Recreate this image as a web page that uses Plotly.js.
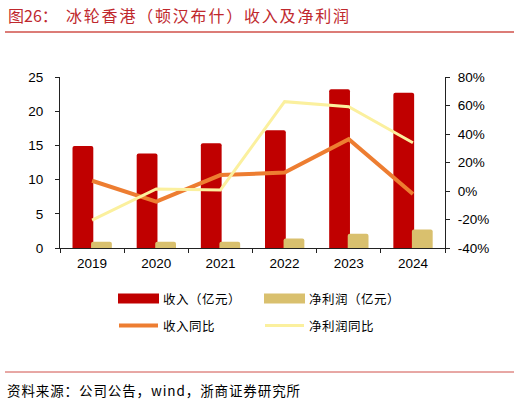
<!DOCTYPE html>
<html>
<head>
<meta charset="utf-8">
<script src="https://cdn.plot.ly/plotly-3.0.1.min.js"></script>
<style>
html,body{margin:0;padding:0;background:#fff;}
#chart{width:520px;height:403px;}
</style>
</head>
<body>
<div id="chart"></div>
<script>
// ---- data ----
const years = ['2019', '2020', '2021', '2022', '2023', '2024'];
const revenue = [14.9, 13.8, 15.3, 17.2, 23.2, 22.7];        // 收入（亿元）
const netProfit = [0.9, 0.9, 0.9, 1.4, 2.1, 2.7];            // 净利润（亿元）
const revenueYoY = [7.2, -7.5, 11.2, 12.9, 36.3, -2.1];      // 收入同比 (%)
const profitYoY = [-20.4, 1.4, 0.7, 62.7, 59.2, 33.9];       // 净利润同比 (%)
const leftTicks = [0, 5, 10, 15, 20, 25];
const rightTicks = [-40, -20, 0, 20, 40, 60, 80];

// ---- layout helpers ----
const W = 520, H = 403;
const M = {l: 60, r: 75, t: 77, b: 155};
const pw = W - M.l - M.r, ph = H - M.t - M.b;
const px = x => (x - M.l) / pw;
const py = y => (H - M.b - y) / ph;

const C_REV = '#C00000', C_NP = '#D9C06E', C_RY = '#ED7D31', C_PY = '#FBF09E';
const TXT = '"Noto Sans CJK SC", "Liberation Sans", sans-serif';

const traces = [
  {type: 'bar', x: years, y: revenue, name: '收入（亿元）', marker: {color: C_REV, cornerradius: 2},
   width: 0.324, offset: -0.305, hoverinfo: 'none'},
  {type: 'bar', x: years, y: netProfit, name: '净利润（亿元）', marker: {color: C_NP, cornerradius: 2},
   width: 0.324, offset: -0.016, hoverinfo: 'none'},
  {type: 'scatter', mode: 'lines', x: years, y: revenueYoY, yaxis: 'y2', name: '收入同比',
   line: {color: C_RY, width: 4}, hoverinfo: 'none'},
  {type: 'scatter', mode: 'lines', x: years, y: profitYoY, yaxis: 'y2', name: '净利润同比',
   line: {color: C_PY, width: 3}, hoverinfo: 'none'}
];

const shapes = [
  {type: 'line', xref: 'paper', yref: 'paper', x0: px(5), x1: px(514), y0: py(32), y1: py(32),
   line: {color: '#D0504A', width: 1.5}},
  {type: 'line', xref: 'paper', yref: 'paper', x0: px(5), x1: px(514), y0: py(372), y1: py(372),
   line: {color: '#D0504A', width: 1}},
  // legend symbols
  {type: 'rect', xref: 'paper', yref: 'paper', x0: px(118), x1: px(159), y0: py(293.5), y1: py(303.5),
   fillcolor: C_REV, line: {width: 0}},
  {type: 'rect', xref: 'paper', yref: 'paper', x0: px(264), x1: px(305), y0: py(293.5), y1: py(303.5),
   fillcolor: C_NP, line: {width: 0}},
  {type: 'line', xref: 'paper', yref: 'paper', x0: px(119), x1: px(158), y0: py(325.5), y1: py(325.5),
   line: {color: C_RY, width: 4}},
  {type: 'line', xref: 'paper', yref: 'paper', x0: px(265), x1: px(304), y0: py(325.5), y1: py(325.5),
   line: {color: C_PY, width: 3}}
];

function ann(text, x, y, size, color, spacing) {
  const t = spacing ? '<span style="letter-spacing:' + spacing + 'px">' + text + '</span>' : text;
  return {text: t, xref: 'paper', yref: 'paper', x: px(x), y: py(y), xanchor: 'left', yanchor: 'middle',
    showarrow: false, font: {family: TXT, size: size, color: color || '#000'}};
}
const annotations = [
  ann('图26：', 6, 15, 16, '#C0282D'),
  ann('冰轮香港（顿汉布什）收入及净利润', 64, 15, 16, '#C0282D', 1.8),
  ann('收入（亿元）', 161, 298.5, 12.5, '#000', 0.5),
  ann('净利润（亿元）', 307, 298.5, 12.5, '#000', 0.5),
  ann('收入同比', 161, 325.5, 12.5, '#000', 0.5),
  ann('净利润同比', 307, 325.5, 12.5, '#000', 0.5),
  ann('资料来源：公司公告，wind，浙商证券研究所', 5, 390, 13.5, '#000', 0.9)
];

const tickFont = {family: '"Liberation Sans", Arial, sans-serif', size: 13.5, color: '#000'};

const layout = {
  width: W, height: H,
  margin: M,
  paper_bgcolor: '#fff', plot_bgcolor: '#fff',
  showlegend: false,
  barmode: 'overlay',
  xaxis: {type: 'category', showline: true, linecolor: '#222', linewidth: 1,
    ticks: 'outside', tickson: 'boundaries', ticklen: 4, tickcolor: '#222', ticklabelstandoff: 3,
    tickfont: tickFont, showgrid: false, zeroline: false, fixedrange: true},
  yaxis: {range: [0, 25], tickvals: leftTicks, showline: true, linecolor: '#222', linewidth: 1,
    ticks: 'outside', ticklen: 4, tickcolor: '#222', tickfont: tickFont, ticklabelstandoff: 9,
    showgrid: false, zeroline: false, fixedrange: true},
  yaxis2: {range: [-40, 80], tickvals: rightTicks, ticktext: rightTicks.map(v => v + '%'),
    overlaying: 'y', side: 'right', showline: true, linecolor: '#222', linewidth: 1,
    ticks: 'outside', ticklen: 4, tickcolor: '#222', tickfont: tickFont, ticklabelstandoff: 5,
    showgrid: false, zeroline: false, fixedrange: true},
  shapes: shapes,
  annotations: annotations
};

Plotly.newPlot('chart', traces, layout, {displayModeBar: false, staticPlot: true});
</script>
</body>
</html>
